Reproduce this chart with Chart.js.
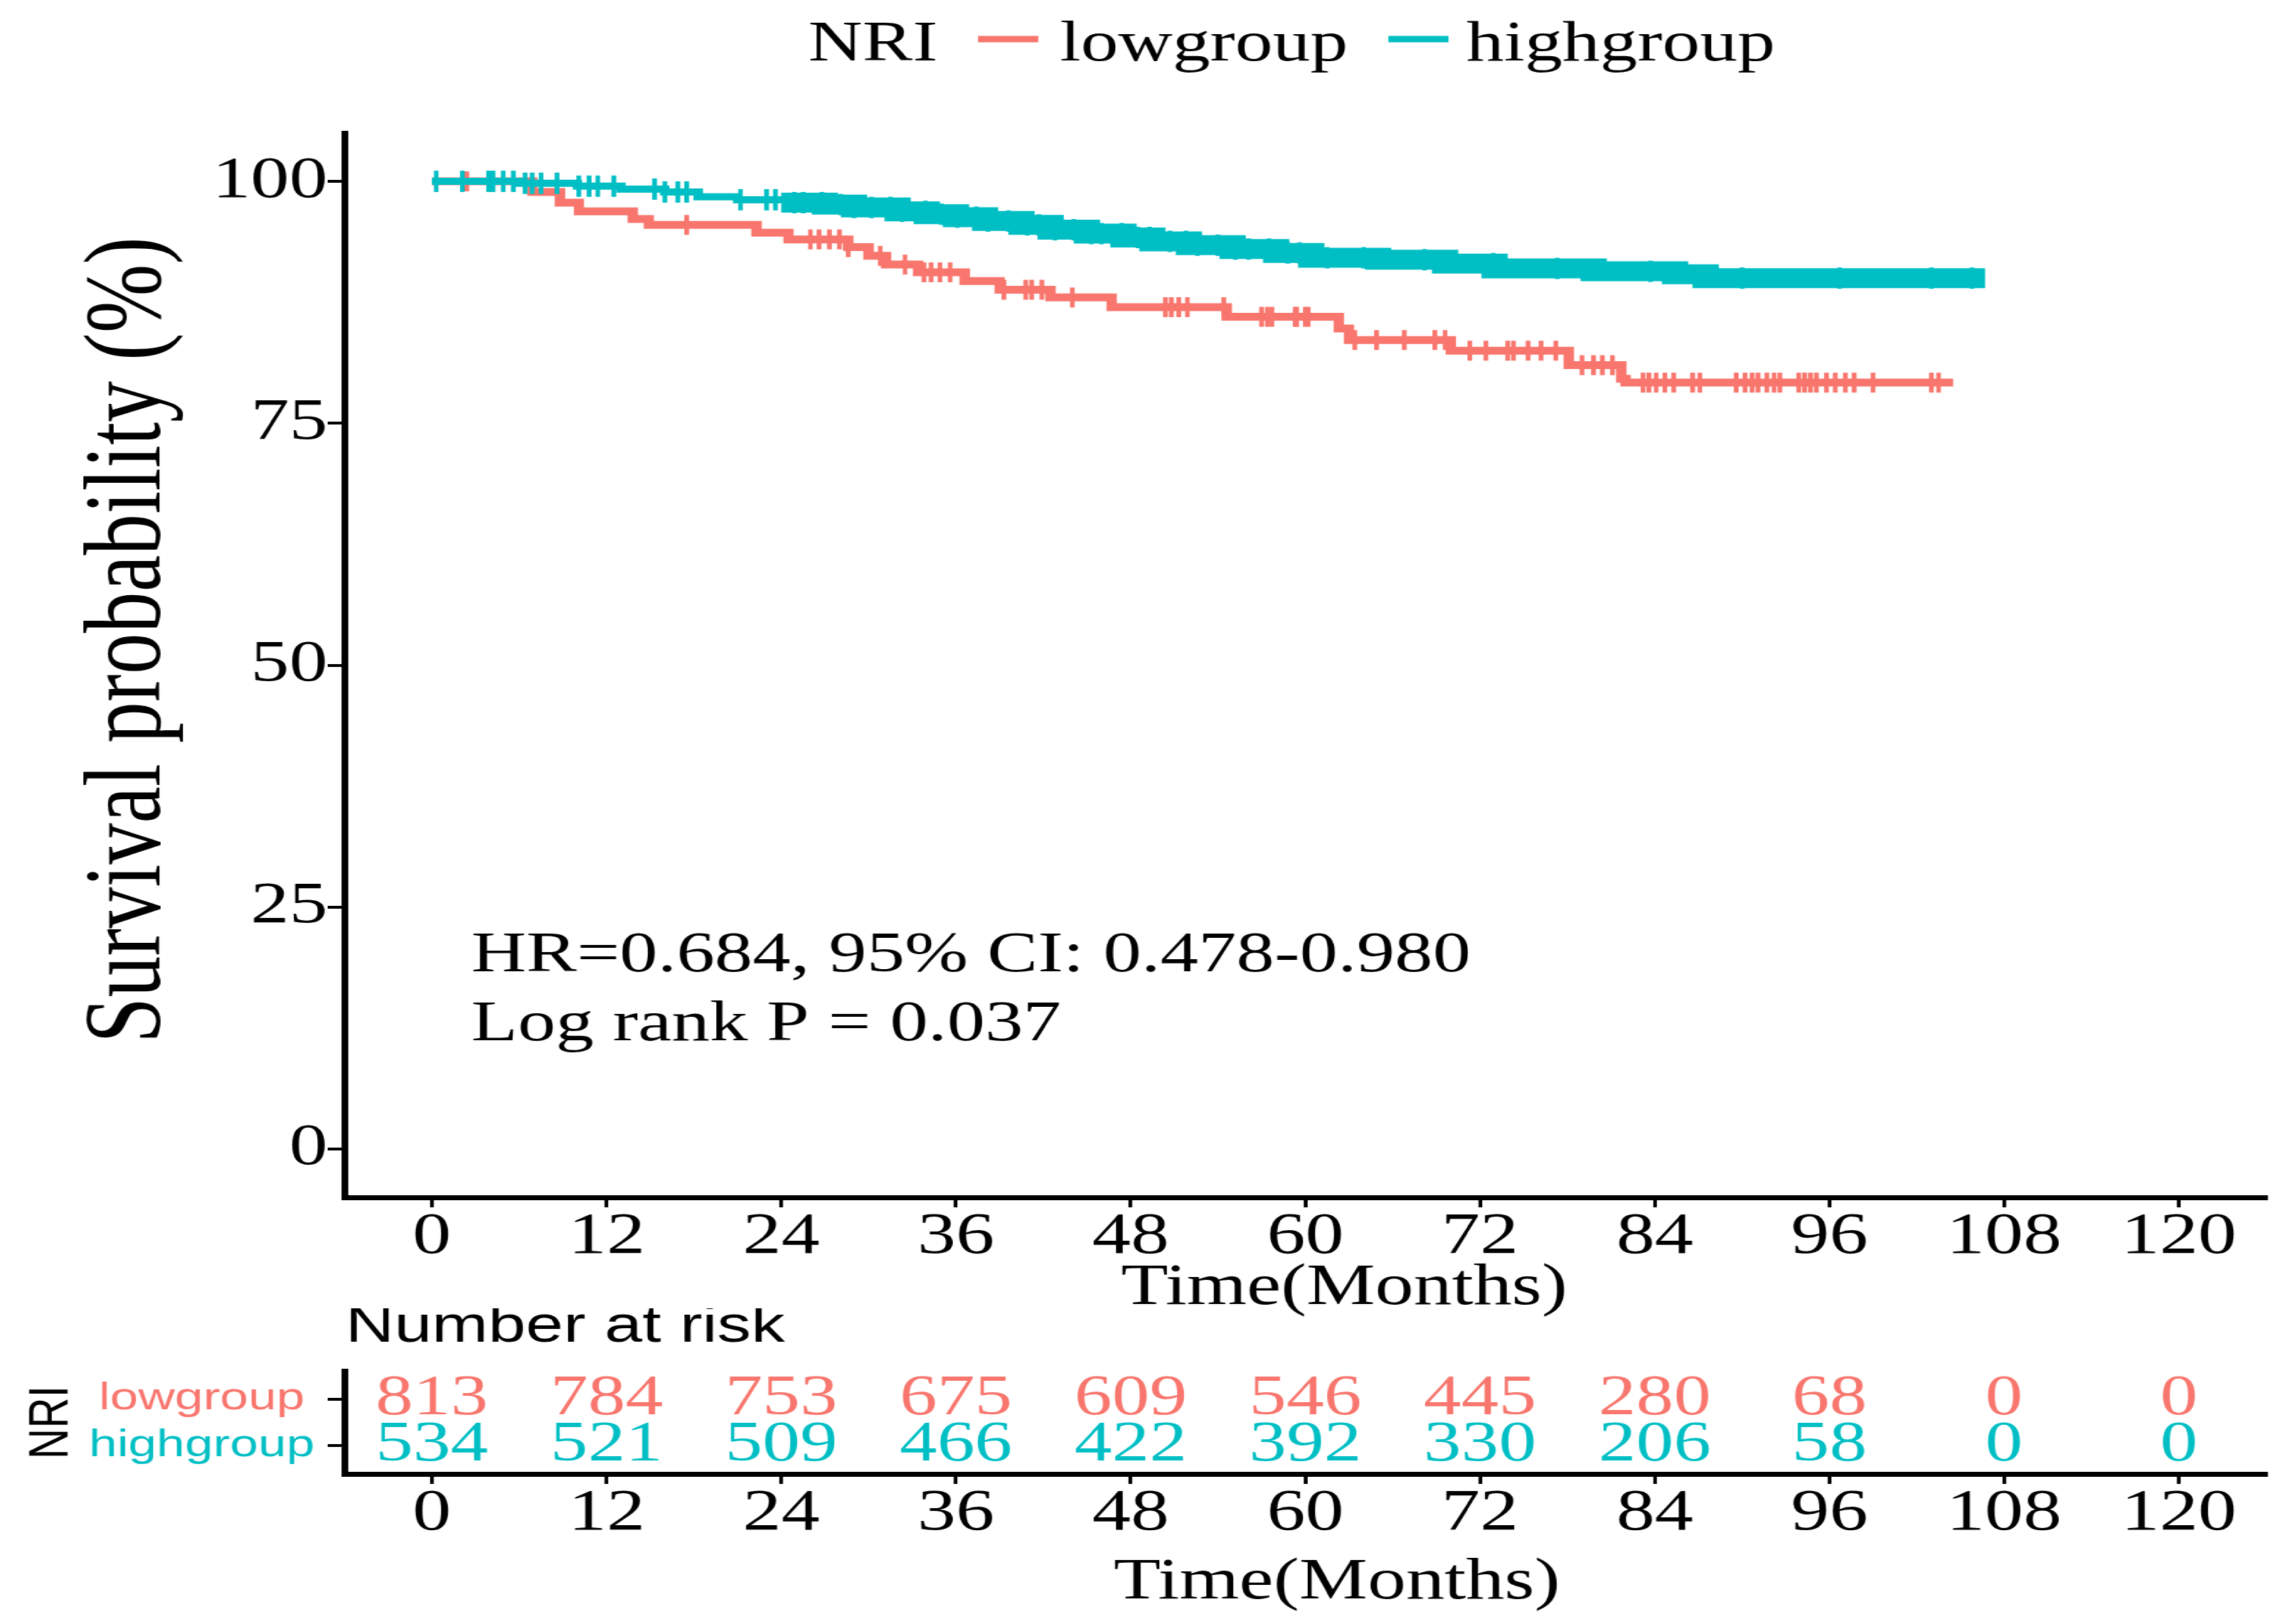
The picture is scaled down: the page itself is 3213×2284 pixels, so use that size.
<!DOCTYPE html>
<html>
<head>
<meta charset="utf-8">
<script src="https://cdn.jsdelivr.net/npm/chart.js@4.4.1/dist/chart.umd.min.js"></script>
<style>
  html, body { margin: 0; padding: 0; background: #fff; overflow: hidden; }
  /* the source figure is stretched sideways, so the whole drawing is too */
  #stage { position: absolute; left: 0; top: 0; width: 2434px; height: 2284px;
           transform: scaleX(1.32); transform-origin: 0 0; }
  #km { position: absolute; left: 0; top: 0; }
  #risk { position: absolute; left: 0; top: 1840px; }
</style>
</head>
<body>
<div id="stage">
  <canvas id="km" width="2434" height="1866"></canvas>
  <canvas id="risk" width="2434" height="444"></canvas>
</div>
<script>
const groups = ['lowgroup', 'highgroup'];
const timeTicks = [0, 12, 24, 36, 48, 60, 72, 84, 96, 108, 120];
const survivalTicks = [0, 25, 50, 75, 100];

// Kaplan-Meier steps: time of each drop and survival (%) after it
const lowTimes = [0, 6.9, 8.8, 10.1, 13.8, 14.9, 22.3, 24.5, 28.6, 30, 31.2, 33.4, 36.6, 39, 42.5, 46.7, 54.6, 62.3, 63, 70, 78.1, 81.7, 82, 104.5];
const lowSurv = [100, 98.9, 97.8, 96.9, 96.1, 95.5, 94.7, 94.0, 93.2, 92.3, 91.4, 90.6, 89.7, 88.8, 88.0, 87.0, 86.0, 84.8, 83.6, 82.5, 81.0, 79.6, 79.2, 79.2];
const highTimes = [0, 6, 10, 13, 16, 18.3, 21, 24, 27, 29, 32, 34, 36, 38, 40.5, 42.5, 45, 47.5, 49.5, 52, 55, 58, 60.4, 65, 69.6, 73, 79.8, 85.4, 87.5, 106.7];
const highSurv = [100, 99.8, 99.5, 99.2, 98.9, 98.4, 98.1, 97.8, 97.6, 97.3, 96.9, 96.6, 96.3, 95.9, 95.5, 95.0, 94.6, 94.2, 93.8, 93.4, 93.0, 92.6, 92.1, 91.9, 91.5, 91.0, 90.7, 90.4, 90.0, 90.0];

// censored times (the "+" marks)
const lowCensor = [2.4, 17.5, 26.0, 26.6, 27.3, 28.0, 28.6, 30.8, 32.5, 33.8, 34.3, 34.9, 35.6, 39.3, 40.8, 41.2, 41.9, 44.0, 50.4, 50.8, 51.3, 51.9, 54.4, 57.0, 57.4, 57.7, 59.3, 59.4, 60.0, 60.2, 63.4, 64.9, 66.8, 68.9, 69.6, 71.3, 72.4, 73.9, 74.3, 75.3, 76.2, 77.2, 79.0, 79.8, 80.4, 81.1, 83.2, 83.6, 84.1, 84.7, 85.3, 86.6, 87.1, 89.6, 90.2, 90.7, 91.1, 91.7, 92.2, 92.6, 93.9, 94.3, 94.7, 95.1, 95.8, 96.4, 97.1, 97.7, 99.0, 103.0, 103.5];
const highCensor = [0.3, 2.1, 3.9, 4.2, 4.9, 5.6, 6.4, 6.9, 7.5, 8.6, 10.1, 10.8, 11.4, 12.5, 15.3, 16.0, 16.9, 17.5, 21.2, 23.0, 23.6, 24.9, 25.5, 26.8, 28.1, 29.0, 30.2, 31.5, 32.3, 33.9, 35.0, 36.1, 37.4, 38.2, 39.6, 40.9, 41.7, 42.8, 44.1, 45.3, 46.0, 47.4, 48.5, 49.3, 50.7, 51.8, 52.6, 54.0, 55.2, 56.1, 57.5, 58.8, 59.6, 61.5, 64.0, 68.2, 72.9, 77.3, 83.7, 90.0, 96.7, 103.0, 105.8];

const riskLow = [813, 784, 753, 675, 609, 546, 445, 280, 68, 0, 0];
const riskHigh = [534, 521, 509, 466, 422, 392, 330, 206, 58, 0, 0];

const hrText = 'HR=0.684, 95% CI: 0.478-0.980';
const pText = 'Log rank P = 0.037';

const red = '#F8766D';
const teal = '#00BFC4';
const groupColors = [red, teal];
const serif = '"Liberation Serif", "Times New Roman", serif';
const sans = '"Liberation Sans", Arial, sans-serif';

Chart.defaults.font.family = serif;
Chart.defaults.color = '#000';

function stepPoints(times, surv) {
  return times.map((t, i) => ({ x: t, y: surv[i] }));
}

function survAt(times, surv, t) {
  let s = surv[0];
  times.forEach((tt, i) => { if (tt <= t) s = surv[i]; });
  return s;
}

function censorPoints(cens, times, surv) {
  return cens.map((t) => ({ x: t, y: survAt(times, surv, t) }));
}

function timeAxis() {
  return {
    type: 'linear',
    min: -6,
    max: 126,
    afterBuildTicks: (s) => { s.ticks = timeTicks.map((v) => ({ value: v })); },
    ticks: { autoSkip: false, maxRotation: 0, font: { size: 82, lineHeight: 1 }, padding: 1 },
    grid: { drawOnChartArea: false, color: '#000', lineWidth: 4, tickLength: 14 },
    border: { display: true, color: '#000', width: 7 },
  };
}

const kmText = {
  id: 'kmText',
  afterDraw(chart) {
    const { ctx, scales: { x, y } } = chart;
    ctx.save();
    ctx.fillStyle = '#000';
    ctx.font = '80px ' + serif;
    ctx.textBaseline = 'alphabetic';
    // legend
    ctx.fillText('NRI', 861, 85);
    ctx.lineWidth = 9;
    ctx.strokeStyle = red;
    ctx.beginPath(); ctx.moveTo(1042, 55); ctx.lineTo(1106, 55); ctx.stroke();
    ctx.fillText(groups[0], 1129, 85);
    ctx.strokeStyle = teal;
    ctx.beginPath(); ctx.moveTo(1479, 55); ctx.lineTo(1543, 55); ctx.stroke();
    ctx.fillText(groups[1], 1562, 85);
    // statistics
    const ax = x.getPixelForValue(2.7);
    const ay = y.getPixelForValue(18.4);
    ctx.font = '81px ' + serif;
    ctx.fillText(hrText, ax, ay);
    ctx.fillText(pText, ax, ay + 97);
    // axis titles
    ctx.font = '82px ' + serif;
    ctx.textAlign = 'center';
    ctx.textBaseline = 'middle';
    ctx.fillText('Time(Months)', 1432, 1812);
    ctx.translate(140, 900);
    ctx.rotate(-Math.PI / 2);
    ctx.font = '116px ' + serif;
    ctx.fillText('Survival probability (%)', 0, 0);
    ctx.restore();
  },
};

new Chart(document.getElementById('km'), {
  type: 'scatter',
  data: {
    datasets: [
      {
        label: 'highgroup censored',
        data: censorPoints(highCensor, highTimes, highSurv),
        pointStyle: 'line', rotation: 90, radius: 15,
        borderColor: teal, borderWidth: 5, showLine: false,
      },
      {
        label: 'highgroup',
        data: stepPoints(highTimes, highSurv),
        showLine: true, stepped: true, pointRadius: 0,
        borderColor: teal, borderWidth: 10, borderJoinStyle: 'miter',
        segment: { borderWidth: (c) => (c.p0.parsed.x >= 23 ? 28 : 10) },
      },
      {
        label: 'lowgroup censored',
        data: censorPoints(lowCensor, lowTimes, lowSurv),
        pointStyle: 'line', rotation: 90, radius: 14,
        borderColor: red, borderWidth: 5, showLine: false,
      },
      {
        label: 'lowgroup',
        data: stepPoints(lowTimes, lowSurv),
        showLine: true, stepped: true, pointRadius: 0,
        borderColor: red, borderWidth: 11, borderJoinStyle: 'miter',
      },
    ],
  },
  options: {
    responsive: false,
    animation: false,
    layout: { padding: { top: 187, right: 20, bottom: 0, left: 0 } },
    plugins: { legend: { display: false }, tooltip: { enabled: false } },
    scales: {
      x: Object.assign(timeAxis(), {
        afterFit: (s) => { s.height = 182; },
      }),
      y: {
        type: 'linear',
        min: -5,
        max: 105,
        afterBuildTicks: (s) => { s.ticks = survivalTicks.map((v) => ({ value: v })); },
        afterFit: (s) => { s.width = 367; },
        ticks: { font: { size: 82, lineHeight: 1 }, padding: 0 },
        grid: { drawOnChartArea: false, color: '#000', lineWidth: 4, tickLength: 18 },
        border: { display: true, color: '#000', width: 7 },
      },
    },
  },
  plugins: [kmText],
});

const riskText = {
  id: 'riskText',
  afterDraw(chart) {
    const { ctx, scales: { x, y } } = chart;
    ctx.save();
    ctx.fillStyle = '#000';
    ctx.font = '72px ' + sans;
    ctx.textBaseline = 'alphabetic';
    ctx.fillText('Number at risk', 368, 47);
    ctx.font = '80px ' + serif;
    ctx.textAlign = 'center';
    ctx.textBaseline = 'middle';
    [riskLow, riskHigh].forEach((row, r) => {
      ctx.fillStyle = groupColors[r];
      row.forEach((n, i) => {
        ctx.fillText(String(n), x.getPixelForValue(timeTicks[i]), y.getPixelForValue(r));
      });
    });
    ctx.fillStyle = '#000';
    ctx.font = '82px ' + serif;
    ctx.fillText('Time(Months)', 1424, 386);
    ctx.restore();
  },
};

new Chart(document.getElementById('risk'), {
  type: 'scatter',
  data: { datasets: [] },
  options: {
    responsive: false,
    animation: false,
    layout: { padding: { top: 88, right: 20, bottom: 0, left: 0 } },
    plugins: { legend: { display: false }, tooltip: { enabled: false } },
    scales: {
      x: Object.assign(timeAxis(), {
        afterFit: (s) => { s.height = 211; },
      }),
      y: {
        type: 'linear',
        reverse: true,
        min: -0.6,
        max: 1.6,
        afterBuildTicks: (s) => { s.ticks = groups.map((g, i) => ({ value: i })); },
        afterFit: (s) => { s.width = 367; },
        ticks: {
          callback: (v) => groups[v],
          color: (c) => groupColors[c.index],
          crossAlign: 'center',
          font: { family: sans, size: 54, lineHeight: 1 },
          padding: 14,
        },
        grid: { drawOnChartArea: false, color: '#000', lineWidth: 4, tickLength: 18 },
        border: { display: true, color: '#000', width: 7 },
        title: { display: true, text: 'NRI', font: { family: sans, size: 60 }, padding: { top: 19 } },
      },
    },
  },
  plugins: [riskText],
});
</script>
</body>
</html>
